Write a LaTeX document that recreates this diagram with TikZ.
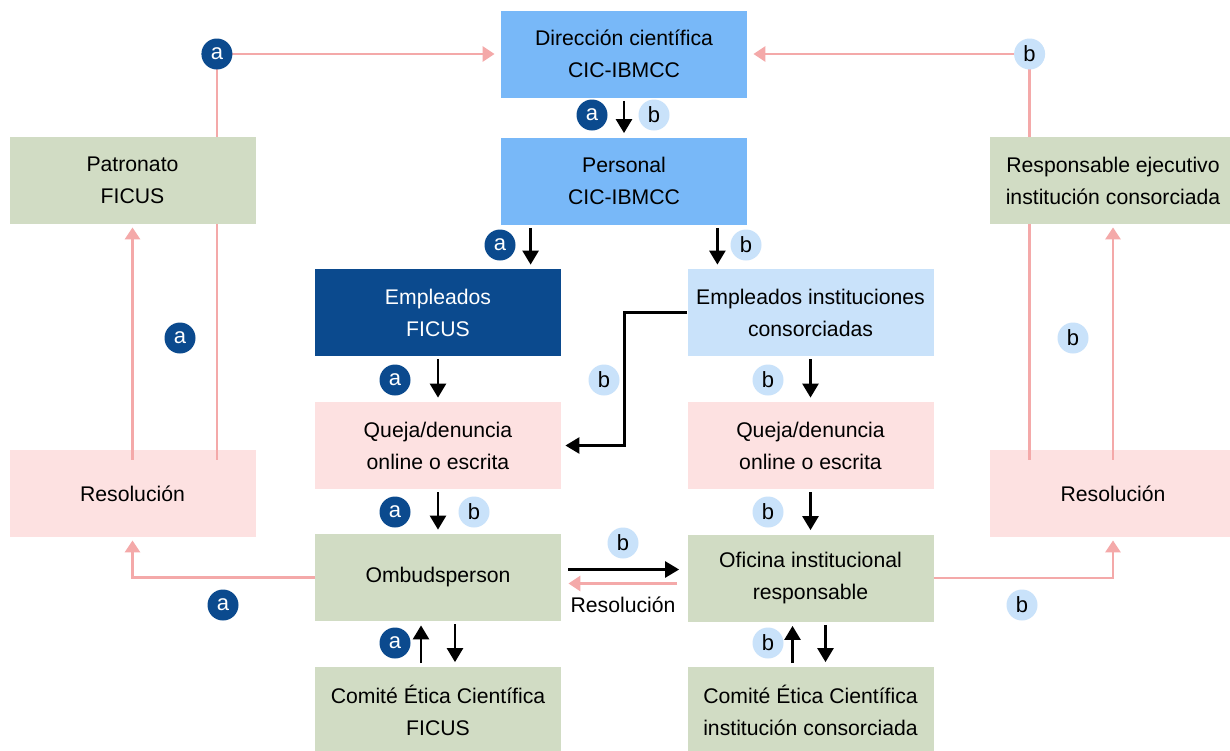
\documentclass[tikz,border=0pt]{standalone}
\usepackage{fontspec}
\setmainfont{Liberation Sans}
\usetikzlibrary{arrows.meta,calc}
\definecolor{midblue}{HTML}{78B8F8}
\definecolor{darkblue}{HTML}{0B4A8E}
\definecolor{lightblue}{HTML}{C9E2FA}
\definecolor{pinkfill}{HTML}{FDE1E1}
\definecolor{greenfill}{HTML}{D1DCC4}
\definecolor{pinkline}{HTML}{F4A9A9}
\begin{document}
\begin{tikzpicture}[x=0.5pt,y=-0.5pt,
  box/.style={rectangle, minimum width=123pt, minimum height=43.5pt, inner sep=0pt, align=center, font=\fontsize{10.6}{16}\selectfont},
  bluebox/.style={box, fill=midblue},
  darkbox/.style={box, fill=darkblue, text=white},
  lightbox/.style={box, fill=lightblue},
  pinkbox/.style={box, fill=pinkfill},
  greenbox/.style={box, fill=greenfill},
  bdg/.style={circle, minimum size=15.5pt, inner sep=0pt, font=\fontsize{11}{12}\selectfont},
  ba/.style={bdg, fill=darkblue, text=white},
  bb/.style={bdg, fill=lightblue, text=black},
  blk/.style={line width=1.3pt, -{Triangle[length=7pt,width=8pt]}, shorten <=1.5pt, shorten >=2pt},
  pk/.style={line width=1.4pt, draw=pinkline, -{Triangle[length=6pt,width=7.5pt]}, shorten >=1.5pt},
  pkl/.style={line width=1.4pt, draw=pinkline},
]
\clip (0,0) rectangle (1230,750);
\fill[white] (0,0) rectangle (1230,750);

% boxes
\node[bluebox] (dir) at (624,54) {Dirección científica\\CIC-IBMCC};
\node[bluebox] (pers) at (624,181) {Personal\\CIC-IBMCC};
\node[greenbox] (patr) at (132.5,180.5) {Patronato\\FICUS};
\node[greenbox] (resp) at (1113,180.5) {Responsable ejecutivo\\institución consorciada};
\node[darkbox] (empf) at (438,312.5) {Empleados\\FICUS};
\node[lightbox] (empi) at (810.5,312.5) {Empleados instituciones\\consorciadas};
\node[pinkbox] (qjl) at (438,445.5) {Queja/denuncia\\online o escrita};
\node[pinkbox] (qjr) at (810.5,445.5) {Queja/denuncia\\online o escrita};
\node[pinkbox] (resl) at (132.5,493.5) {Resolución};
\node[pinkbox] (resr) at (1113,493.5) {Resolución};
\node[greenbox] (omb) at (438,577.5) {Ombudsperson};
\node[greenbox] (ofi) at (810.5,578) {Oficina institucional\\responsable};
\node[greenbox] (comf) at (438,710) {Comité Ética Científica\\FICUS};
\node[greenbox] (comi) at (810.5,710) {Comité Ética Científica\\institución consorciada};

% black connectors
\draw[blk] (dir.south) -- (pers.north);
\draw[blk] ([xshift=15pt]pers.south west) -- ([xshift=15pt]pers.south west |- empf.north);
\draw[blk] ([xshift=-15pt]pers.south east) -- ([xshift=-15pt]pers.south east |- empi.north);
\draw[blk] (empf.south) -- (qjl.north);
\draw[blk] (empi.south) -- (qjr.north);
\draw[blk, shorten <=0pt] (empi.west) -| ($(qjl.east)!.5!(qjr.west)$) -- (qjl.east);
\draw[blk] (qjl.south) -- (omb.north);
\draw[blk] (qjr.south) -- (ofi.north);
\draw[blk, shorten <=3.5pt, shorten >=4pt] ([yshift=4pt]omb.east) -- ([yshift=4pt]omb.east -| ofi.west);
\draw[pk, shorten <=5pt, shorten >=3.5pt] ([yshift=-3pt]omb.east -| ofi.west) -- ([yshift=-3pt]omb.east);
\draw[blk] ([xshift=-8.5pt]comf.north) -- ([xshift=-8.5pt]omb.south);
\draw[blk] ([xshift=8.5pt]omb.south) -- ([xshift=8.5pt]comf.north);
\draw[blk] ([xshift=-9pt]comi.north) -- ([xshift=-9pt]ofi.south);
\draw[blk] ([xshift=7.5pt]ofi.south) -- ([xshift=7.5pt]comi.north);

% pink connectors left
\draw[pk] (omb.west) -| (resl.south);
\draw[pk] ([yshift=-5pt]resl.north) -- (patr.south);
\draw[pkl] ([xshift=-19.5pt,yshift=-5pt]resl.north east) -- ([xshift=-19.5pt]patr.south east);
\coordinate (cl) at ([xshift=-19.5pt]patr.north east |- dir.west);
\draw[pk, shorten >=3pt] ([xshift=-19.5pt]patr.north east) -- (cl) -- (dir.west);
% pink connectors right
\draw[pk] (ofi.east) -| (resr.south);
\draw[pk] ([yshift=-5pt]resr.north) -- (resp.south);
\draw[pkl] ([xshift=20pt,yshift=-5pt]resr.north west) -- ([xshift=20pt]resp.south west);
\coordinate (cr) at ([xshift=20pt]resp.north west |- dir.east);
\draw[pk, shorten >=3pt] ([xshift=20pt]resp.north west) -- (cr) -- (dir.east);

% badges
\node[ba] (a1) at (cl) {a};
\node[bb] (b1) at (cr) {b};
\node[ba] (a2) at (592,115) {a};
\node[bb] (b2) at (654,115) {b};
\node[ba] (a3) at (500,245) {a};
\node[bb] (b3) at (746,245) {b};
\node[ba] (a4) at (180,338) {a};
\node[bb] (b4) at (1073,338) {b};
\node[ba] (a5) at (395,380) {a};
\node[bb] (b5) at (604,380) {b};
\node[bb] (b6) at (768,380) {b};
\node[ba] (a6) at (395,512) {a};
\node[bb] (b7) at (474,512) {b};
\node[bb] (b8) at (768,512) {b};
\node[bb] (b9) at (623,543) {b};
\node[ba] (a7) at (223,605) {a};
\node[bb] (b10) at (1022,605) {b};
\node[ba] (a8) at (395,643) {a};
\node[bb] (b11) at (768,643) {b};

\node[font=\fontsize{10.6}{12}\selectfont] (reslab) at (623,605) {Resolución};
\end{tikzpicture}
\end{document}
